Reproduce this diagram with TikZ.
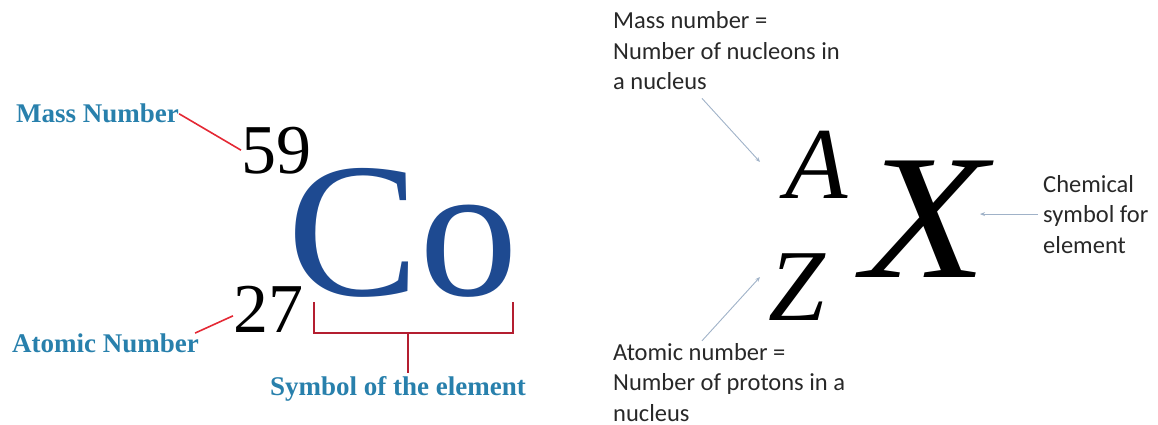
\documentclass[tikz,border=0pt]{standalone}
\usepackage{fontspec}
\setmainfont{Liberation Serif}
\newfontfamily\calibrifont{Carlito}
\usepackage{xcolor}
\definecolor{LabelTeal}{RGB}{40,128,172}
\definecolor{CobaltBlue}{RGB}{30,74,145}
\definecolor{LeadRed}{RGB}{228,40,52}
\definecolor{BracketRed}{RGB}{180,30,48}
\definecolor{PointerGray}{RGB}{160,178,200}
\definecolor{NoteGray}{RGB}{40,40,40}
\usepackage{tikz}
\usetikzlibrary{
    arrows.meta,
    calc
}

\begin{document}
\begin{tikzpicture}[
    x=1pt,
    y=-1pt,
%
    tag/.style={
        inner sep=0pt,
        anchor=base west,
        text=LabelTeal,
        font=\fontsize{27}{30}\selectfont\bfseries
    },
%
    nucnum/.style={
        inner sep=0pt,
        anchor=base west,
        font=\fontsize{70}{70}\selectfont
    },
%
    symbol/.style={
        inner sep=0pt,
        anchor=base west,
        font=\fontsize{102}{102}\selectfont\itshape
    },
%
    note/.style={
        inner sep=0pt,
        anchor=base west,
        align=left,
        text=NoteGray,
        font=\calibrifont\fontsize{24.5}{30.5}\selectfont
    },
%
    lead/.style={
        line width=1.6pt,
        color=LeadRed
    },
%
    bracket/.style={
        line width=2pt,
        color=BracketRed
    },
%
    pointer/.style={
        -{Stealth[length=5pt,width=4pt]},
        line width=0.9pt,
        color=PointerGray
    }
]
\useasboundingbox (0,0) rectangle (1158,425);
%
% Left half: the cobalt example.
%
\node[tag] (massname) at (16,123) {Mass Number};
\node[tag] (atomname) at (12,352) {Atomic Number};
\node[nucnum] (n59) at (241,173) {59};
\node[nucnum] (n27) at (233,332) {27};
\node[
    inner sep=0pt,
    anchor=base west,
    xscale=1.03,
    text=CobaltBlue,
    font=\fontsize{192}{192}\selectfont
] (co) at (287,295) {Co};
\node[
    tag,
    anchor=base
] (symname) at (398,395) {Symbol of the element};
\draw[lead] (massname.east) -- (n59.west);
\draw[lead] ([xshift=-4pt]atomname.north east) -- ($(n27.west)+(0,7)$);
\coordinate (brL) at (314,302);
\coordinate (brR) at (513,302);
\coordinate (brMid) at (408,333);
\draw[bracket] (brL) -- ++(0,31) -| (brR);
\draw[
    bracket,
    shorten >=3pt
] (brMid) -- (brMid |- symname.north);
%
% Right half: the general notation.
%
\node[symbol] (symA) at (785,198) {A};
\node[symbol] (symZ) at (768,320) {Z};
\node[
    symbol,
    xscale=1.15,
    font=\fontsize{178}{178}\selectfont\itshape
] (symX) at (862,277) {X};
\node[note] (masslbl) at (613,90) {
    Mass number =\\
    Number of nucleons in\\
    a nucleus
};
\node[note] (atomlbl) at (613,421) {
    Atomic number =\\
    Number of protons in a\\
    nucleus
};
\node[note] (chemlbl) at (1043,253) {
    Chemical\\
    symbol for\\
    element
};
\coordinate (aTip) at (760,162);
\coordinate (zTip) at (760,277);
\coordinate (xTip) at (980,218);
\draw[pointer] ($(masslbl.south west)+(89,8)$) -- (aTip);
\draw[pointer] ($(atomlbl.north west)+(89,-2)$) -- (zTip);
\draw[
    pointer,
    shorten <=5pt
] (chemlbl.west) -- (chemlbl.west -| xTip);
%
\end{tikzpicture}
\end{document}
